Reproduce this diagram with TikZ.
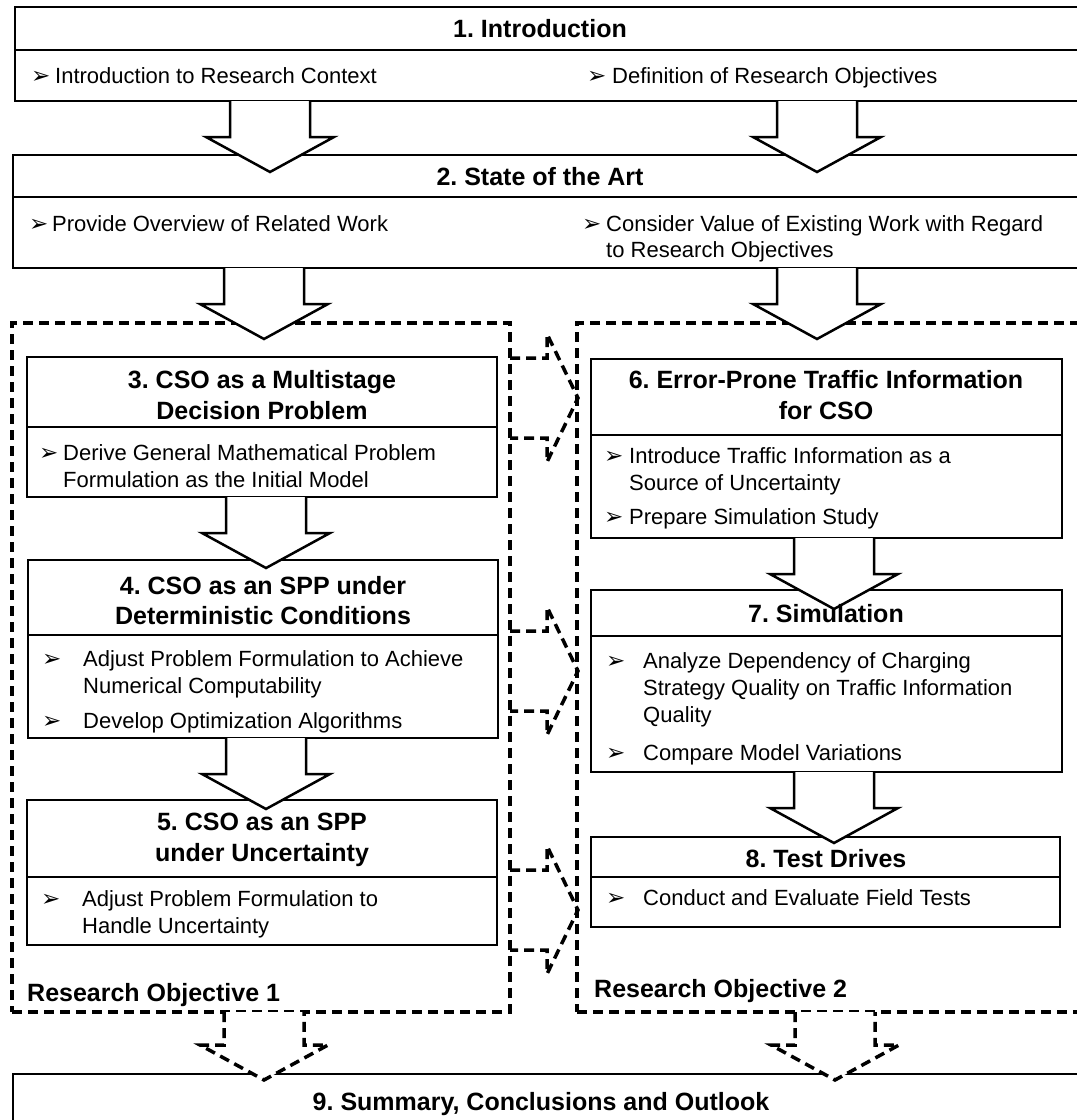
\documentclass[tikz,border=0pt]{standalone}
\usepackage{fontspec}
\setmainfont{Liberation Sans}
\newfontfamily\dgsymfam{DejaVu Sans}
\usetikzlibrary{calc}
\frenchspacing

\newcommand\dgTitle{\fontsize{25}{30}\selectfont\bfseries}
\newcommand\dgText{\fontsize{22}{26}\selectfont}
\newcommand\dgSym{\dgsymfam\fontsize{23}{26}\selectfont}

\tikzset{
  solidbox/.style={draw, line width=2.5pt, fill=white, inner sep=0pt, outer sep=0pt},
  objbox/.style={draw, line width=4pt, dash pattern=on 10pt off 6pt, inner sep=0pt, outer sep=0pt},
  divline/.style={line width=2.5pt},
  ttl/.style={font=\dgTitle, anchor=base, inner sep=0pt},
  objlabel/.style={font=\dgTitle, anchor=base west, inner sep=0pt},
  txt/.style={font=\dgText, anchor=base west, inner sep=0pt},
  blt/.style={font=\dgSym, anchor=base west, inner sep=0pt},
  flowarrow/.style={draw, line width=2.5pt, fill=white, line join=miter},
  linkarrow/.style={draw, line width=3.5pt, dash pattern=on 10pt off 6pt, line join=miter},
}

% rectangle node given by its corners (x1,y1) (x2,y2), y counted downwards
\newcommand\frameat[6][solidbox]{%
  \pgfmathsetmacro\fcx{(#3+#5)/2}%
  \pgfmathsetmacro\fcy{(#4+#6)/2}%
  \pgfmathsetmacro\fw{#5-#3}%
  \pgfmathsetmacro\fh{#6-#4}%
  \node[#1, minimum width=\fw pt, minimum height=\fh pt] (#2) at (\fcx,\fcy) {};}

% horizontal rule across a box at height #2
\newcommand\divider[2]{%
  \draw[divline] let \p1=(#1.west), \p2=(#1.east) in (\x1,{-#2*1pt}) -- (\x2,{-#2*1pt});}

% block arrow pointing down from node #2, centred at x=#3, stem length #4
\newcommand\flowdown[4][flowarrow]{%
  \draw[#1] let \p1=(#2.south) in
    ({(#3-40)*1pt},\y1) -- ({(#3-40)*1pt},{\y1-#4*1pt}) -- ({(#3-64)*1pt},{\y1-#4*1pt})
    -- ({#3*1pt},{\y1-(#4+35)*1pt}) -- ({(#3+64)*1pt},{\y1-#4*1pt})
    -- ({(#3+40)*1pt},{\y1-#4*1pt}) -- ({(#3+40)*1pt},\y1);}

% dashed block arrow pointing right from node #2, centred at y=#3
\newcommand\linkright[3][linkarrow]{%
  \draw[#1] let \p1=(#2.east) in
    (\x1,{-(#3-40)*1pt}) -- ({\x1+37pt},{-(#3-40)*1pt}) -- ({\x1+37pt},{-(#3-64)*1pt})
    -- ({\x1+68pt},{-#3*1pt}) -- ({\x1+37pt},{-(#3+64)*1pt})
    -- ({\x1+37pt},{-(#3+40)*1pt}) -- (\x1,{-(#3+40)*1pt});}

\begin{document}
\begin{tikzpicture}[x=1pt, y=-1pt]
\useasboundingbox (0,0) rectangle (1077,1120);
\fill[white] (0,0) rectangle (1077,1120);
\clip (0,0) rectangle (1077,1120);

% closing chapter
\frameat{b9}{13}{1074}{1090}{1145}

% research objective frames
\frameat[objbox]{ro1}{12}{323}{510}{1012}
\frameat[objbox]{ro2}{577}{323}{1100}{1012}

% dashed arrows into the closing chapter
\flowdown[linkarrow, fill=white]{ro1}{264}{33}
\flowdown[linkarrow, fill=white]{ro2}{835}{33}

% chapter boxes
\frameat{b1}{15}{7}{1090}{101}
\frameat{b2}{13}{155}{1090}{268}
\frameat{b3}{27}{357}{497}{497}
\frameat{b4}{28}{560}{498}{738}
\frameat{b5}{27}{800}{497}{945}
\frameat{b6}{591}{359}{1062}{538}
\frameat{b7}{591}{590}{1062}{772}
\frameat{b8}{591}{837}{1060}{927}

\divider{b1}{50}
\divider{b2}{197}
\divider{b3}{427}
\divider{b4}{635}
\divider{b5}{877}
\divider{b6}{435}
\divider{b7}{636}
\divider{b8}{877}

% flow between chapters
\flowdown{b1}{270}{36}
\flowdown{b1}{817}{36}
\flowdown{b2}{264}{36}
\flowdown{b2}{817}{36}
\flowdown{b3}{266}{36}
\flowdown{b4}{266}{36}
\flowdown{b6}{834}{36}
\flowdown{b7}{834}{36}

% links from objective 1 to objective 2
\linkright{ro1}{398}
\linkright{ro1}{671}
\linkright{ro1}{910}

% texts
\node[ttl] (t1) at (540,37) {1. Introduction};
\node[blt] (g1a) at (31,83) {➢};
\node[txt] (x1a) at (55,83) {Introduction to Research Context};
\node[blt] (g1b) at (587,83) {➢};
\node[txt] (x1b) at (612,83) {Definition of Research Objectives};

\node[ttl] (t2) at (540,185) {2. State of the Art};
\node[blt] (g2a) at (29,231) {➢};
\node[txt] (x2a) at (52,231) {Provide Overview of Related Work};
\node[blt] (g2b) at (582,231) {➢};
\node[txt] (x2b) at (606,231) {Consider Value of Existing Work with Regard};
\node[txt] (x2c) at (606,257) {to Research Objectives};

\node[ttl] (t3a) at (262,388) {3. CSO as a Multistage};
\node[ttl] (t3b) at (262,419) {Decision Problem};
\node[blt] (g3a) at (39,460) {➢};
\node[txt] (x3a) at (63,460) {Derive General Mathematical Problem};
\node[txt] (x3b) at (63,487) {Formulation as the Initial Model};

\node[ttl] (t4a) at (263,594) {4. CSO as an SPP under};
\node[ttl] (t4b) at (263,624) {Deterministic Conditions};
\node[blt] (g4a) at (42,666) {➢};
\node[txt] (x4a) at (83,666) {Adjust Problem Formulation to Achieve};
\node[txt] (x4b) at (83,693) {Numerical Computability};
\node[blt] (g4b) at (42,728) {➢};
\node[txt] (x4c) at (83,728) {Develop Optimization Algorithms};

\node[ttl] (t5a) at (262,830) {5. CSO as an SPP};
\node[ttl] (t5b) at (262,861) {under Uncertainty};
\node[blt] (g5a) at (41,906) {➢};
\node[txt] (x5a) at (82,906) {Adjust Problem Formulation to};
\node[txt] (x5b) at (82,933) {Handle Uncertainty};

\node[objlabel] (o1) at (27,1001) {Research Objective 1};

\node[ttl] (t6a) at (826,388) {6. Error-Prone Traffic Information};
\node[ttl] (t6b) at (826,419) {for CSO};
\node[blt] (g6a) at (604,463) {➢};
\node[txt] (x6a) at (629,463) {Introduce Traffic Information as a};
\node[txt] (x6b) at (629,490) {Source of Uncertainty};
\node[blt] (g6b) at (604,524) {➢};
\node[txt] (x6c) at (629,524) {Prepare Simulation Study};

\node[ttl] (t7) at (826,622) {7. Simulation};
\node[blt] (g7a) at (606,668) {➢};
\node[txt] (x7a) at (643,668) {Analyze Dependency of Charging};
\node[txt] (x7b) at (643,695) {Strategy Quality on Traffic Information};
\node[txt] (x7c) at (643,722) {Quality};
\node[blt] (g7b) at (606,760) {➢};
\node[txt] (x7d) at (643,760) {Compare Model Variations};

\node[ttl] (t8) at (826,867) {8. Test Drives};
\node[blt] (g8a) at (606,905) {➢};
\node[txt] (x8a) at (643,905) {Conduct and Evaluate Field Tests};

\node[objlabel] (o2) at (594,997) {Research Objective 2};

\node[ttl] (t9) at (541,1110) {9. Summary, Conclusions and Outlook};
\end{tikzpicture}
\end{document}
